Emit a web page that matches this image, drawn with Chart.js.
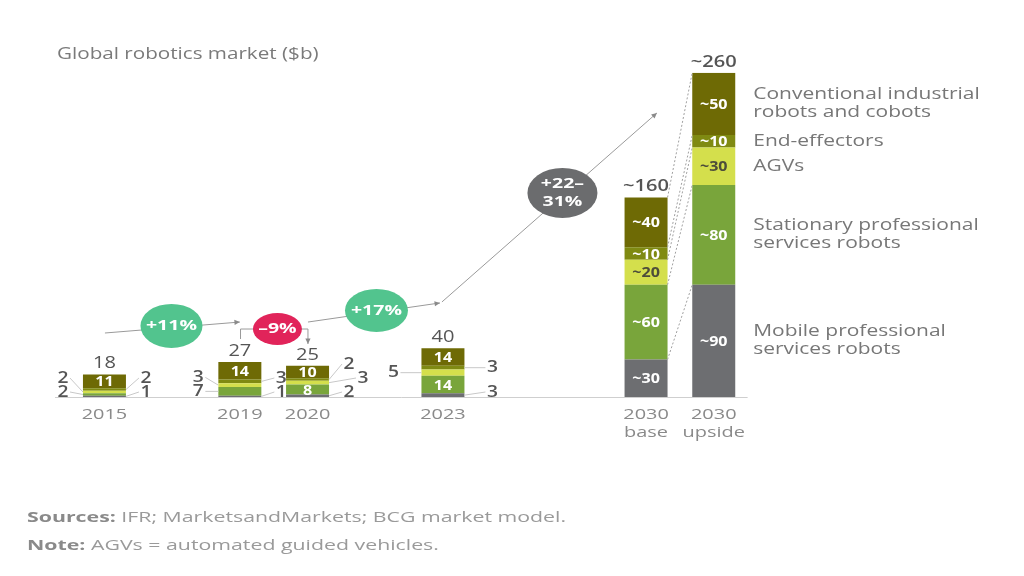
<!DOCTYPE html>
<html>
<head>
<meta charset="utf-8">
<title>Global robotics market</title>
<script src="https://cdn.jsdelivr.net/npm/chart.js@4.4.1/dist/chart.umd.min.js"></script>
<style>
  html, body { margin: 0; background: #fff; }
</style>
</head>
<body>
<canvas id="market" width="1024" height="576"></canvas>
<script>
// Categories on an evenly spaced slot axis; empty slots keep the original spacing
const categories = [['2015'], '', ['2019'], ['2020'], '', ['2023'], '', '', ['2030', 'base'], ['2030', 'upside']];
const approx = [false, false, false, false, false, false, false, false, true, true];

// Series values ($b), stacked bottom to top
const mobile       = [1, null, 1, 2, null, 3, null, null, 30, 90];
const stationary   = [2, null, 7, 8, null, 14, null, null, 60, 80];
const agvs         = [2, null, 3, 3, null, 5, null, null, 20, 30];
const endEffectors = [2, null, 3, 2, null, 3, null, null, 10, 10];
const conventional = [11, null, 14, 10, null, 14, null, null, 40, 50];
const totals = ['18', null, '27', '25', null, '40', null, null, '~160', '~260'];

const seriesNames = [
  ['Mobile professional', 'services robots'],
  ['Stationary professional', 'services robots'],
  ['AGVs'],
  ['End-effectors'],
  ['Conventional industrial', 'robots and cobots']
];
const seriesColors = ['#6d6e71', '#79a53b', '#d4df4c', '#7f8a12', '#6e6a05'];

// where each value label goes: in = inside bar, L/R = outside with leader line
const labelSide = [
  ['R', null, 'R', 'R', null, 'R', null, null, 'in', 'in'],
  ['L', null, 'L', 'in', null, 'in', null, null, 'in', 'in'],
  ['L', null, 'L', 'R', null, 'L', null, null, 'in', 'in'],
  ['R', null, 'R', 'R', null, 'R', null, null, 'in', 'in'],
  ['in', null, 'in', 'in', null, 'in', null, null, 'in', 'in']
];

// growth annotations, in (slot, value) coordinates
const growthLabels = ['+11%', '\u20139%', '+17%', '+22\u2013|31%'];
const growthColors = ['#52c48e', '#e1245a', '#52c48e', '#6b6c6e'];
const growthCenters = [[0.99, 57], [2.555, 54.5], [4.018, 69.4], [6.765, 163.6]];

const FONT = '"Open Sans", "Noto Sans", sans-serif';

// the source artwork's type is set wide, so text is drawn horizontally stretched
function txt(ctx, s, x, y, font, color, align, sx) {
  ctx.save();
  ctx.translate(x, y);
  ctx.scale(sx, 1);
  ctx.font = font;
  ctx.fillStyle = color;
  ctx.textAlign = align;
  ctx.textBaseline = 'middle';
  ctx.fillText(s, 0, 0);
  ctx.restore();
}

function arrowHead(ctx, x1, y1, x2, y2) {
  const a = Math.atan2(y2 - y1, x2 - x1);
  const s = 6;
  ctx.beginPath();
  ctx.moveTo(x2, y2);
  ctx.lineTo(x2 - s * Math.cos(a - 0.45), y2 - s * Math.sin(a - 0.45));
  ctx.lineTo(x2 - s * Math.cos(a + 0.45), y2 - s * Math.sin(a + 0.45));
  ctx.closePath();
  ctx.fill();
}

const annotate = {
  id: 'annotate',
  afterDatasetsDraw(chart) {
    const { ctx, scales: { x, y } } = chart;
    const px = s => x.getPixelForValue(s);
    const py = v => y.getPixelForValue(v);
    const bar = (d, i) => chart.getDatasetMeta(d).data[i];
    const base = py(0);

    ctx.save();

    // baseline
    ctx.strokeStyle = '#cfcfcf';
    ctx.lineWidth = 1;
    ctx.beginPath();
    ctx.moveTo(55, base + 0.5);
    ctx.lineTo(x.right, base + 0.5);
    ctx.stroke();

    // category labels
    categories.forEach((lab, i) => {
      if (!lab) return;
      lab.forEach((ln, k) => txt(ctx, ln, px(i), base + 18 + k * 17.5, '15px ' + FONT, '#8a8a8a', 'center', 1.33));
    });

    // title
    txt(ctx, 'Global robotics market ($b)', 57, 54, '16px ' + FONT, '#7a7a7a', 'left', 1.29);

    // dotted connectors between 2030 base and upside
    const b = 8, u = 9;
    ctx.strokeStyle = '#a0a0a0';
    ctx.setLineDash([2, 2]);
    for (let d = 0; d < 5; d++) {
      const eb = bar(d, b), eu = bar(d, u);
      ctx.beginPath();
      ctx.moveTo(eb.x + eb.width / 2, eb.y);
      ctx.lineTo(eu.x - eu.width / 2, eu.y);
      ctx.stroke();
    }
    ctx.setLineDash([]);

    // value labels
    const data = chart.data.datasets;
    categories.forEach((c, i) => {
      const stacks = { L: [], R: [] };
      data.forEach((ds, d) => {
        const v = ds.data[i];
        if (v == null) return;
        const el = bar(d, i);
        const side = labelSide[d][i];
        const text = (approx[i] ? '~' : '') + v;
        if (side === 'in') {
          txt(ctx, text, el.x, (el.y + el.base) / 2 + 1, 'bold 14px ' + FONT, d === 2 ? '#4d4d3a' : '#ffffff', 'center', 1.15);
        } else {
          stacks[side].push({ el, text, mid: (el.y + el.base) / 2 });
        }
      });
      ['L', 'R'].forEach(side => {
        let prev = null;
        const gap = i === 5 ? 28 : 20;
        stacks[side].forEach((lab, k) => {
          let ly = Math.min(lab.mid, base - 5);
          if (prev !== null) ly = Math.min(ly, prev - 14);
          prev = ly;
          const dir = side === 'L' ? -1 : 1;
          const edge = lab.el.x + dir * lab.el.width / 2;
          const extra = stacks[side].length === 3 && k === 1 ? 14 : 0;
          const tx = edge + dir * (gap + extra);
          ctx.strokeStyle = '#c8c8c8';
          ctx.lineWidth = 1;
          ctx.beginPath();
          ctx.moveTo(edge, lab.mid);
          ctx.lineTo(tx - dir * 7, ly);
          ctx.stroke();
          txt(ctx, lab.text, tx, ly, '600 16px ' + FONT, '#555555', 'center', 1.2);
        });
      });
      // totals
      if (totals[i]) {
        const top = bar(4, i);
        txt(ctx, totals[i], top.x, top.y - 11, (approx[i] ? '600 ' : '') + '17px ' + FONT, '#555555', 'center', 1.18);
      }
    });

    // series names beside the upside bar
    seriesNames.forEach((lines, d) => {
      const el = bar(d, u);
      const mid = (el.y + el.base) / 2;
      lines.forEach((ln, k) => {
        txt(ctx, ln, el.x + el.width / 2 + 18, mid + (k - (lines.length - 1) / 2) * 18, '16px ' + FONT, '#777777', 'left', 1.31);
      });
    });

    // growth arrows
    ctx.strokeStyle = '#9a9a9a';
    ctx.fillStyle = '#8a8a8a';
    ctx.lineWidth = 1;
    const seg = (p, q, head) => {
      ctx.beginPath();
      ctx.moveTo(px(p[0]), py(p[1]));
      ctx.lineTo(px(q[0]), py(q[1]));
      ctx.stroke();
      if (head) arrowHead(ctx, px(p[0]), py(p[1]), px(q[0]), py(q[1]));
    };
    seg([0.007, 51.3], [2.0, 60.1], true);
    seg([3.006, 60.1], [4.956, 75.4], true);
    seg([4.985, 76.2], [8.16, 227.7], true);
    // bracket for the 2019-2020 dip
    ctx.beginPath();
    ctx.moveTo(px(2.01), py(46.5));
    ctx.lineTo(px(2.01), py(54.5));
    ctx.lineTo(px(3.006), py(54.5));
    ctx.lineTo(px(3.006), py(42.5));
    ctx.stroke();
    arrowHead(ctx, px(3.006), py(54.5), px(3.006), py(42.5));

    // growth bubbles
    const radii = [[31, 22], [24.5, 16], [31.5, 21.5], [35, 25]];
    growthLabels.forEach((g, k) => {
      const cx = px(growthCenters[k][0]), cy = py(growthCenters[k][1]);
      ctx.fillStyle = growthColors[k];
      ctx.beginPath();
      ctx.ellipse(cx, cy, radii[k][0], radii[k][1], 0, 0, Math.PI * 2);
      ctx.fill();
      const lines = g.split('|');
      lines.forEach((ln, j) => txt(ctx, ln, cx, cy + (j - (lines.length - 1) / 2) * 18, 'bold 15px ' + FONT, '#ffffff', 'center', 1.3));
    });

    // sources and note
    const foot = [['Sources:', ' IFR; MarketsandMarkets; BCG market model.', 518], ['Note:', ' AGVs = automated guided vehicles.', 546]];
    foot.forEach(([head, rest, fy]) => {
      const sx = 1.42;
      ctx.font = 'bold 15px ' + FONT;
      const w = ctx.measureText(head).width * sx;
      txt(ctx, head, 27, fy, 'bold 15px ' + FONT, '#8a8a8a', 'left', sx);
      txt(ctx, rest, 27 + w, fy, '15px ' + FONT, '#9a9a9a', 'left', sx);
    });

    ctx.restore();
  }
};

const ctx = document.getElementById('market');
new Chart(ctx, {
  type: 'bar',
  data: {
    labels: categories,
    datasets: [mobile, stationary, agvs, endEffectors, conventional].map((vals, d) => ({
      label: seriesNames[d].join(' '),
      data: vals,
      backgroundColor: seriesColors[d],
      barPercentage: 0.635,
      categoryPercentage: 1
    }))
  },
  options: {
    responsive: false,
    animation: false,
    layout: { padding: { left: 70.6, right: 276.4, top: 72.7, bottom: 119 } },
    plugins: {
      legend: { display: false },
      tooltip: { enabled: false }
    },
    scales: {
      x: {
        stacked: true,
        grid: { display: false, drawTicks: false },
        border: { display: false },
        ticks: { display: false },
        afterFit(scale) { scale.height = 60; }
      },
      y: {
        stacked: true,
        display: false,
        min: 0,
        max: 260
      }
    }
  },
  plugins: [annotate]
});
</script>
</body>
</html>
